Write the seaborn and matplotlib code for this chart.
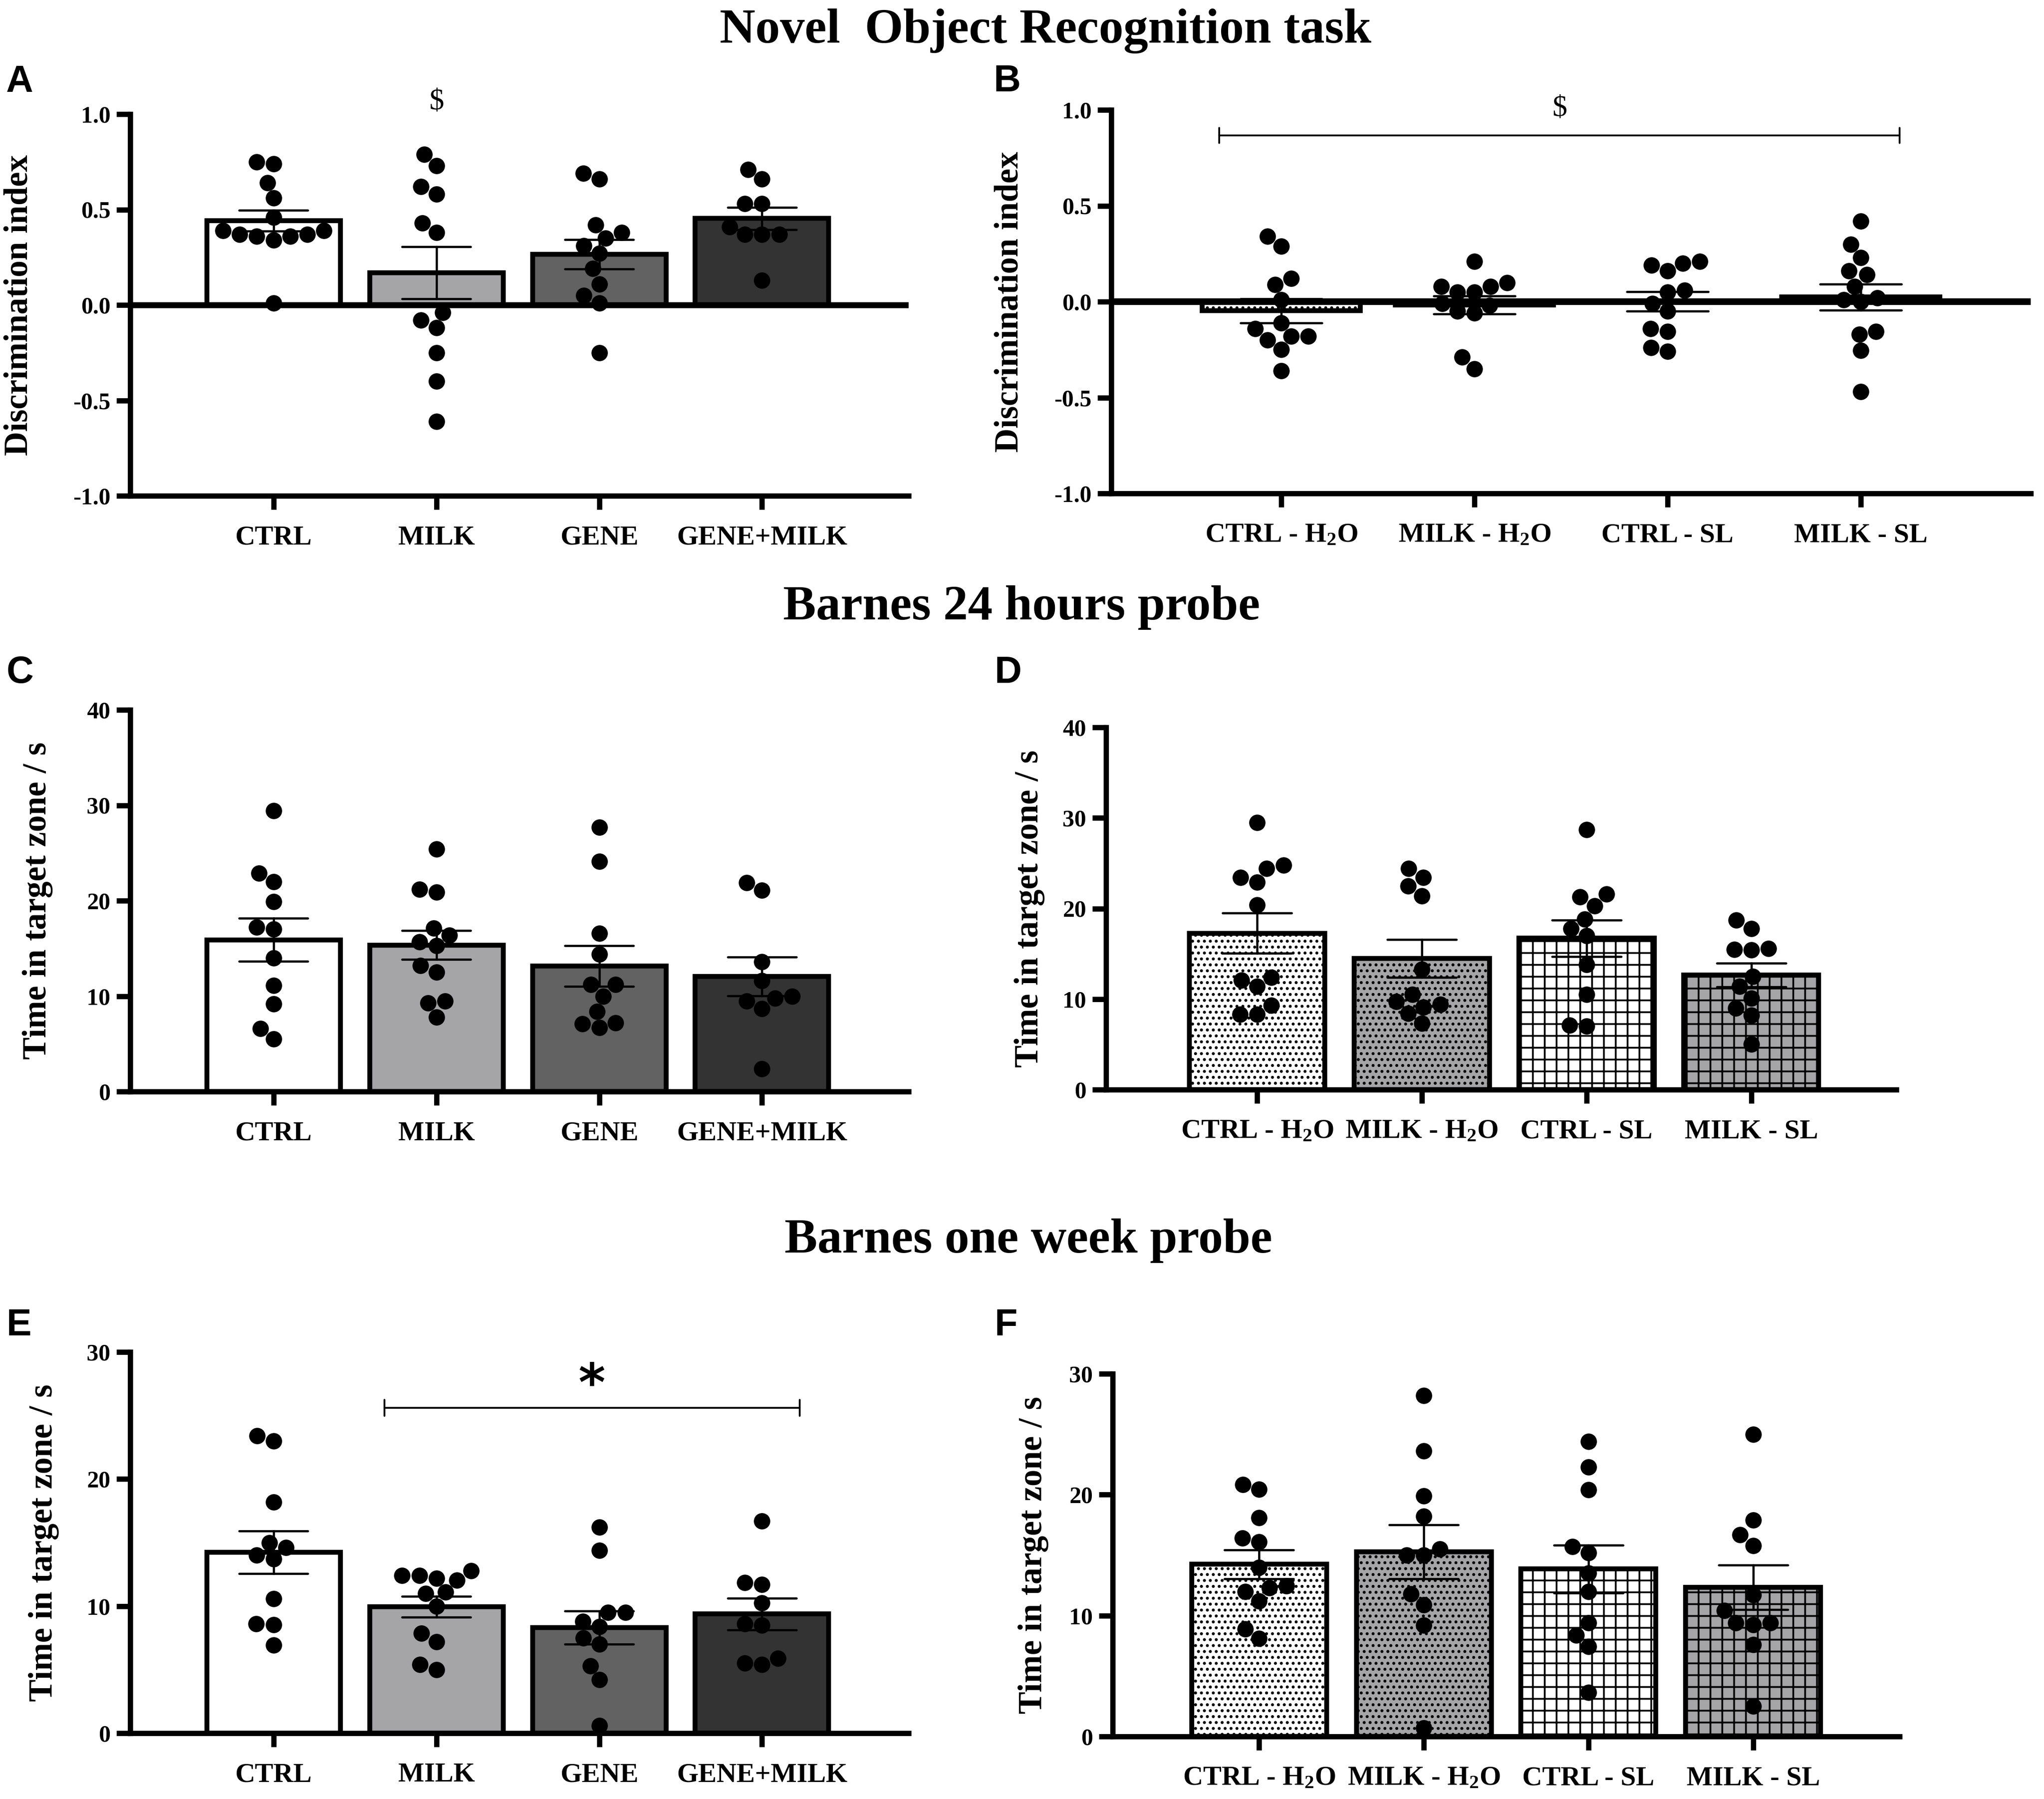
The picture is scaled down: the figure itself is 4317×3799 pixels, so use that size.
import numpy as np
import pandas as pd
import seaborn as sns
import matplotlib
matplotlib.use('Agg')
from matplotlib import pyplot as plt

# group names
groups_gene = ["CTRL", "MILK", "GENE", "GENE+MILK"]
groups_sl = ["CTRL - H$_2$O", "MILK - H$_2$O", "CTRL - SL", "MILK - SL"]

# A: novel object recognition, discrimination index
a_ctrl = [0.74, 0.75, 0.64, 0.56, 0.46, 0.39, 0.37, 0.39, 0.34, 0.37, 0.36, 0.36, 0.01]
a_milk = [0.79, 0.73, 0.62, 0.58, 0.43, 0.38, -0.04, -0.08, -0.12, -0.25, -0.40, -0.61]
a_gene = [0.66, 0.69, 0.42, 0.38, 0.35, 0.31, 0.27, 0.19, 0.11, 0.05, 0.01, -0.25]
a_gene_milk = [0.71, 0.66, 0.53, 0.53, 0.41, 0.37, 0.37, 0.37, 0.13]

# B: novel object recognition, discrimination index
b_ctrl_h2o = [0.34, 0.29, 0.12, 0.09, 0.01, -0.11, -0.14, -0.18, -0.20, -0.18, -0.25, -0.36]
b_milk_h2o = [0.10, 0.21, 0.05, 0.08, 0.05, 0.08, -0.05, -0.01, -0.06, -0.02, -0.29, -0.35]
b_ctrl_sl = [0.16, 0.19, 0.20, 0.21, 0.06, 0.05, -0.01, -0.05, -0.155, -0.14, -0.24, -0.26]
b_milk_sl = [0.42, 0.30, 0.23, 0.16, 0.14, 0.08, 0.02, 0.01, 0.0, -0.17, -0.155, -0.255, -0.47]

# C: Barnes 24 h probe, time in target zone (s)
c_ctrl = [29.45, 22.9, 22.0, 19.9, 17.2, 17.0, 14.0, 11.1, 9.2, 6.6, 5.5]
c_milk = [25.4, 20.9, 21.2, 16.4, 17.1, 15.7, 15.3, 13.2, 12.5, 9.5, 9.3, 7.8]
c_gene = [27.7, 24.1, 16.6, 14.4, 11.2, 11.2, 10.0, 8.4, 6.7, 7.1, 7.2]
c_gene_milk = [21.9, 21.1, 13.6, 11.6, 10.0, 9.5, 9.8, 8.7, 2.4]

# D: Barnes 24 h probe
d_ctrl_h2o = [29.5, 24.8, 24.4, 22.9, 23.4, 20.4, 12.1, 12.4, 11.4, 9.3, 8.3, 8.3]
d_milk_h2o = [24.4, 23.4, 22.5, 21.4, 13.3, 10.5, 9.7, 9.1, 9.4, 8.4, 7.3]
d_ctrl_sl = [28.7, 21.6, 21.3, 20.3, 18.8, 17.8, 17.0, 13.8, 10.5, 7.0, 7.1]
d_milk_sl = [18.7, 17.8, 15.6, 15.4, 15.5, 12.5, 11.4, 10.1, 9.0, 8.2, 5.0]

# E: Barnes one week probe
e_ctrl = [23.0, 23.4, 18.2, 15.0, 14.6, 13.7, 14.0, 10.6, 8.6, 8.55, 6.95]
e_milk = [12.8, 12.2, 12.05, 12.4, 12.4, 11.1, 11.0, 10.0, 7.85, 7.2, 5.0, 5.4]
e_gene = [16.2, 14.4, 9.5, 9.5, 8.8, 8.4, 7.5, 7.0, 5.3, 4.2, 0.6]
e_gene_milk = [16.7, 11.7, 11.85, 10.25, 8.6, 8.5, 5.5, 5.9, 5.4]

# F: Barnes one week probe
f_ctrl_h2o = [20.85, 20.45, 18.1, 16.4, 16.1, 14.0, 12.3, 12.45, 12.0, 11.2, 8.9, 8.1]
f_milk_h2o = [28.2, 23.6, 19.9, 18.2, 15.5, 15.0, 15.0, 11.8, 10.9, 9.2, 0.7]
f_ctrl_sl = [24.4, 22.3, 20.4, 15.7, 15.2, 13.5, 12.0, 9.4, 8.4, 7.45, 3.65]
f_milk_sl = [25.0, 17.9, 16.7, 15.8, 11.7, 10.4, 9.4, 9.25, 9.4, 7.6, 2.5]

di_ticks = [-1.0, -0.5, 0.0, 0.5, 1.0]
di_labels = ["-1.0", "-0.5", "0.0", "0.5", "1.0"]
t40_ticks = [0, 10, 20, 30, 40]
t30_ticks = [0, 10, 20, 30]

colors_gene = ["white", "#a4a4a8", "#626262", "#333333"]
hatch_gene = ["", "", "", ""]
colors_sl = ["white", "#a4a4a8", "white", "#a4a4a8"]
hatch_sl = ["....", "....", "++", "++"]

sns.set_style("white")
plt.rcParams.update({
  'font.family': ['Liberation Serif', 'DejaVu Serif'],
  'font.weight': 'bold',
  'mathtext.fontset': 'custom',
  'mathtext.rm': 'Liberation Serif',
  'mathtext.it': 'Liberation Serif:italic',
  'mathtext.bf': 'Liberation Serif:bold',
  'hatch.linewidth': 0.9,
  'axes.edgecolor': 'black',
  'text.color': 'black',
  'axes.labelcolor': 'black',
  'xtick.color': 'black',
  'ytick.color': 'black',
  'xtick.bottom': True,
  'ytick.left': True,
})


def long_table(groups, series):
  return pd.DataFrame({"group": np.repeat(groups, [len(s) for s in series]),
                       "value": np.concatenate(series)})


def draw_panel(ax, groups, series, colors, hatches, ylim, yticks, yticklabels, ylabel, xlim, label_x):
  df = long_table(groups, series)
  sns.barplot(data=df, x="group", y="value", hue="group", order=groups, hue_order=groups,
              palette=colors, legend=False, errorbar="se", capsize=0.42, width=0.82,
              edgecolor="black", linewidth=2.5,
              err_kws={"color": "black", "linewidth": 1.1, "zorder": 4}, ax=ax)
  for patch, h in zip(ax.patches, hatches):
    patch.set_hatch(h)
  sns.swarmplot(data=df, x="group", y="value", order=groups, color="black", size=8.3,
                ax=ax, zorder=3)
  ax.set_xlim(xlim)
  ax.set_ylim(ylim)
  ax.set_yticks(yticks)
  ax.set_yticklabels(yticklabels)
  sns.despine(ax=ax)
  for side in ["left", "bottom"]:
    ax.spines[side].set_linewidth(2.7)
  ax.tick_params(axis="both", length=7, width=2.7, direction="out")
  ax.tick_params(axis="x", pad=8, labelsize=14)
  ax.tick_params(axis="y", pad=3, labelsize=12)
  ax.set_xlabel("")
  ax.set_ylabel(ylabel, fontsize=17, fontweight="bold")
  ax.yaxis.set_label_coords(label_x, 0.5)


def bracket(ax, x0, x1, y, d, text, ty, fontsize, family, weight):
  ax.plot([x0, x1], [y, y], color="black", linewidth=0.9, clip_on=False)
  ax.plot([x0, x0], [y - d, y + d], color="black", linewidth=0.9, clip_on=False)
  ax.plot([x1, x1], [y - d, y + d], color="black", linewidth=0.9, clip_on=False)
  ax.text((x0 + x1) / 2, ty, text, ha="center", va="center", fontsize=fontsize,
          family=family, fontweight=weight, clip_on=False)


W, H = 4317, 3799
fig = plt.figure(figsize=(W / 300, H / 300), dpi=300)


def px_axes(left, right, top, bottom):
  return fig.add_axes([left / W, 1 - bottom / H, (right - left) / W, (bottom - top) / H])


ax_a = px_axes(275, 1919, 241, 1047)
ax_b = px_axes(2347, 4289, 232, 1042)
ax_c = px_axes(275, 1919, 1499, 2305)
ax_d = px_axes(2336, 4005, 1536, 2301)
ax_e = px_axes(275, 1919, 2855, 3660)
ax_f = px_axes(2350, 4012, 2901, 3667)

draw_panel(ax_a, groups_gene, [a_ctrl, a_milk, a_gene, a_gene_milk], colors_gene, hatch_gene,
           (-1, 1), di_ticks, di_labels, "Discrimination index", (-0.88, 3.9), -0.123)
ax_a.axhline(0, color="black", linewidth=3, zorder=5)
ax_a.text(1, 1.064, r"\$", ha="center", va="center", fontsize=15, fontweight="normal",
          clip_on=False)

draw_panel(ax_b, groups_sl, [b_ctrl_h2o, b_milk_h2o, b_ctrl_sl, b_milk_sl], colors_sl, hatch_sl,
           (-1, 1), di_ticks, di_labels, "Discrimination index", (-0.88, 3.88), -0.094)
ax_b.axhline(0, color="black", linewidth=3.4, zorder=5)
bracket(ax_b, -0.32, 3.2, 0.867, 0.04, r"\$", 1.007, 15, "Liberation Serif", "normal")

draw_panel(ax_c, groups_gene, [c_ctrl, c_milk, c_gene, c_gene_milk], colors_gene, hatch_gene,
           (0, 40), t40_ticks, [str(t) for t in t40_ticks], "Time in target zone / s",
           (-0.88, 3.9), -0.099)

draw_panel(ax_d, groups_sl, [d_ctrl_h2o, d_milk_h2o, d_ctrl_sl, d_milk_sl], colors_sl, hatch_sl,
           (0, 40), t40_ticks, [str(t) for t in t40_ticks], "Time in target zone / s",
           (-0.917, 3.88), -0.077)

draw_panel(ax_e, groups_gene, [e_ctrl, e_milk, e_gene, e_gene_milk], colors_gene, hatch_gene,
           (0, 30), t30_ticks, [str(t) for t in t30_ticks], "Time in target zone / s",
           (-0.88, 3.9), -0.091)
bracket(ax_e, 0.68, 3.23, 25.6, 0.63, "*", 27.3, 26, "DejaVu Sans", "bold")

draw_panel(ax_f, groups_sl, [f_ctrl_h2o, f_milk_h2o, f_ctrl_sl, f_milk_sl], colors_sl, hatch_sl,
           (0, 30), t30_ticks, [str(t) for t in t30_ticks], "Time in target zone / s",
           (-0.89, 3.89), -0.081)

# section titles
fig.text(2208 / W, 1 - 90 / H, "Novel  Object Recognition task", ha="center", va="baseline",
         fontsize=25, fontweight="bold")
fig.text(2158 / W, 1 - 1308 / H, "Barnes 24 hours probe", ha="center", va="baseline",
         fontsize=25, fontweight="bold")
fig.text(2172 / W, 1 - 2645 / H, "Barnes one week probe", ha="center", va="baseline",
         fontsize=25, fontweight="bold")

# panel letters
for letter, x, y in [("A", 12, 194), ("B", 2099, 193), ("C", 14, 1442),
                     ("D", 2101, 1442), ("E", 14, 2820), ("F", 2101, 2820)]:
  fig.text(x / W, 1 - y / H, letter, ha="left", va="baseline", fontsize=19,
           family="Liberation Sans", fontweight="bold")

fig.savefig("out.png", dpi=300)
plt.close(fig)
